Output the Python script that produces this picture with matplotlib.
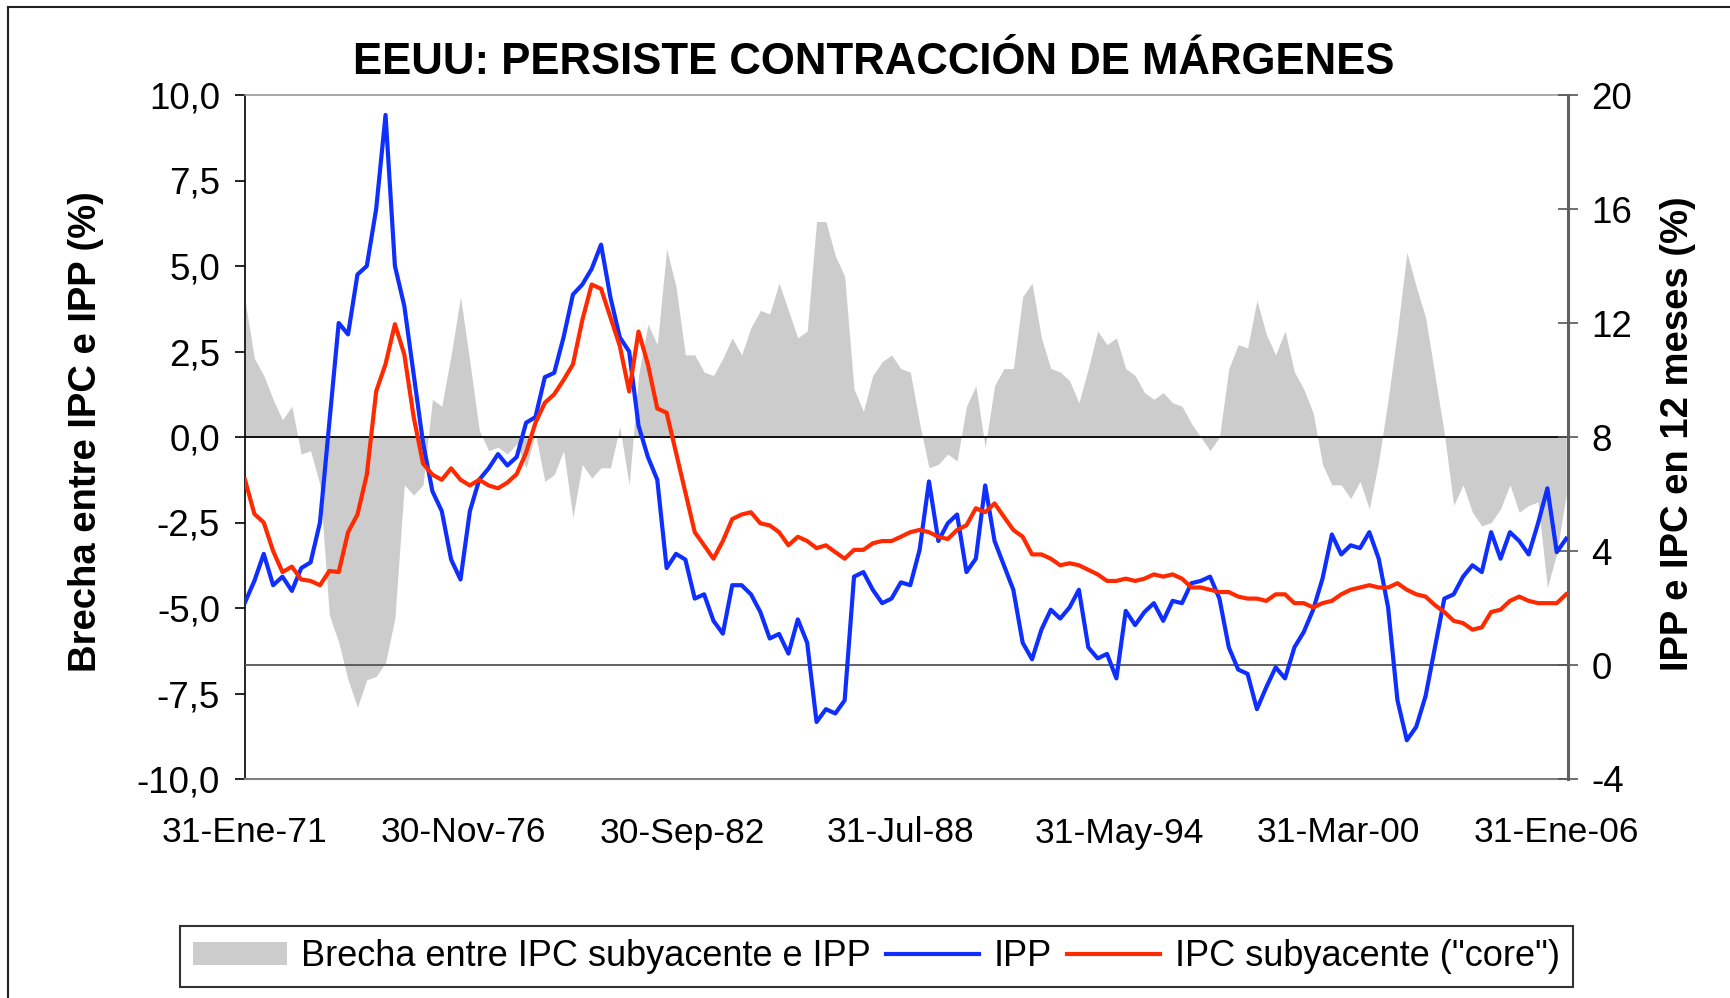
import numpy as np
import matplotlib
matplotlib.use("Agg")
import matplotlib.pyplot as plt
from matplotlib.lines import Line2D
from matplotlib.patches import Patch

plt.rcParams['font.family'] = ['Liberation Sans', 'DejaVu Sans']

# months since Jan-1971 (quarterly samples)
months = np.arange(0, 424, 3)

brecha = [4.0, 2.3, 1.8, 1.1, 0.5, 0.9, -0.5, -0.4, -1.4, -5.2,
          -6.0, -7.1, -7.9, -7.1, -7.0, -6.6, -5.3, -1.4, -1.7, -1.4,
          1.1, 0.9, 2.4, 4.1, 2.2, 0.2, -0.4, -0.3, -0.5, -0.2,
          -0.9, 0.1, -1.3, -1.1, -0.4, -2.35, -0.8, -1.2, -0.9, -0.9,
          0.3, -1.4, 1.8, 3.3, 2.7, 5.5, 4.4, 2.4, 2.4, 1.9,
          1.8, 2.3, 2.9, 2.4, 3.2, 3.7, 3.6, 4.5, 3.7, 2.9,
          3.1, 6.3, 6.3, 5.3, 4.7, 1.4, 0.75, 1.8, 2.2, 2.4,
          2.0, 1.9, 0.4, -0.9, -0.8, -0.5, -0.7, 0.9, 1.5, -0.3,
          1.5, 2.0, 2.0, 4.1, 4.5, 2.9, 2.0, 1.9, 1.65, 1.0,
          2.0, 3.1, 2.7, 2.9, 2.0, 1.8, 1.3, 1.1, 1.3, 1.0,
          0.9, 0.4, 0.0, -0.4, 0.0, 2.0, 2.7, 2.6, 4.0, 3.0,
          2.4, 3.1, 1.9, 1.4, 0.7, -0.8, -1.4, -1.4, -1.8, -1.3,
          -2.1, -0.7, 1.1, 3.1, 5.4, 4.4, 3.5, 1.8, 0.1, -2.0,
          -1.4, -2.2, -2.6, -2.5, -2.1, -1.4, -2.2, -2.0, -1.9, -4.4,
          -3.4, -1.7]

ipp = [2.2, 2.95, 3.9, 2.8, 3.1, 2.6, 3.4, 3.6, 5.0, 8.5,
       12.0, 11.6, 13.7, 14.0, 16.0, 19.3, 14.0, 12.6, 10.2, 7.8,
       6.1, 5.4, 3.7, 3.0, 5.4, 6.5, 6.9, 7.4, 7.0, 7.3,
       8.5, 8.7, 10.1, 10.25, 11.5, 13.0, 13.35, 13.9, 14.75, 12.9,
       11.5, 11.0, 8.4, 7.3, 6.5, 3.4, 3.9, 3.7, 2.33, 2.48,
       1.55, 1.1, 2.8, 2.8, 2.48, 1.86, 0.93, 1.09, 0.4, 1.6,
       0.78, -2.0, -1.55, -1.7, -1.24, 3.1, 3.26, 2.64, 2.17, 2.33,
       2.9, 2.8, 4.04, 6.44, 4.35, 4.97, 5.28, 3.26, 3.73, 6.3,
       4.35, 3.5, 2.64, 0.78, 0.2, 1.24, 1.94, 1.63, 2.02, 2.64,
       0.62, 0.23, 0.39, -0.47, 1.9, 1.4, 1.86, 2.17, 1.55, 2.25,
       2.17, 2.87, 2.95, 3.1, 2.33, 0.62, -0.16, -0.31, -1.55, -0.78,
       -0.08, -0.47, 0.62, 1.16, 1.94, 3.03, 4.58, 3.88, 4.2, 4.1,
       4.66, 3.73, 2.02, -1.24, -2.64, -2.17, -1.09, 0.62, 2.33, 2.48,
       3.1, 3.5, 3.26, 4.66, 3.73, 4.66, 4.35, 3.88, 4.97, 6.2,
       3.96, 4.43]

core = [6.5, 5.3, 5.0, 4.0, 3.26, 3.45, 3.0, 2.95, 2.8, 3.3,
        3.26, 4.66, 5.28, 6.68, 9.6, 10.56, 11.96, 10.9, 8.7, 7.07,
        6.68, 6.5, 6.9, 6.5, 6.3, 6.5, 6.3, 6.2, 6.4, 6.7,
        7.45, 8.5, 9.2, 9.5, 10.0, 10.55, 12.1, 13.35, 13.2, 12.2,
        11.2, 9.6, 11.7, 10.55, 9.0, 8.85, 7.45, 6.06, 4.66, 4.2,
        3.73, 4.35, 5.12, 5.28, 5.36, 4.97, 4.9, 4.66, 4.2, 4.5,
        4.35, 4.1, 4.2, 3.96, 3.73, 4.04, 4.04, 4.27, 4.35, 4.35,
        4.5, 4.66, 4.74, 4.66, 4.5, 4.42, 4.74, 4.9, 5.5, 5.36,
        5.67, 5.2, 4.74, 4.5, 3.88, 3.88, 3.73, 3.5, 3.57, 3.5,
        3.34, 3.18, 2.95, 2.95, 3.03, 2.95, 3.03, 3.18, 3.1, 3.18,
        3.03, 2.72, 2.72, 2.64, 2.56, 2.56, 2.4, 2.33, 2.33, 2.25,
        2.48, 2.48, 2.17, 2.17, 2.02, 2.17, 2.25, 2.48, 2.64, 2.72,
        2.8, 2.72, 2.72, 2.87, 2.64, 2.48, 2.4, 2.1, 1.86, 1.55,
        1.47, 1.24, 1.32, 1.86, 1.94, 2.25, 2.4, 2.25, 2.17, 2.17,
        2.17, 2.48]

tick_months = [0, 70, 140, 210, 280, 350, 420]
tick_labels = ["31-Ene-71", "30-Nov-76", "30-Sep-82", "31-Jul-88",
               "31-May-94", "31-Mar-00", "31-Ene-06"]
left_ticks = [-10, -7.5, -5, -2.5, 0, 2.5, 5, 7.5, 10]
right_ticks = [-4, 0, 4, 8, 12, 16, 20]

title = "EEUU: PERSISTE CONTRACCIÓN DE MÁRGENES"
left_label = "Brecha entre IPC e IPP (%)"
right_label = "IPP e IPC en 12 meses (%)"
legend_labels = ["Brecha entre IPC subyacente e IPP", "IPP", 'IPC subyacente ("core")']

GRAY = '#CCCCCC'
BLUE = '#0F2FFF'
RED = '#FF2A00'
LW = 3.0

W, H = 1731, 998
fig = plt.figure(figsize=(W / 100, H / 100), dpi=100)
fig.patch.set_facecolor('white')

L, R, T, B = 245, 1568, 95, 779
ax1 = fig.add_axes([L / W, (H - B) / H, (R - L) / W, (B - T) / H])
ax2 = ax1.twinx()

# gray area on primary axis
ax1.fill_between(months, 0, brecha, color=GRAY, linewidth=0, zorder=1)
ax1.axhline(0, color='black', lw=1.3, zorder=2)
ax1.set_ylim(-10, 10)
ax1.set_xlim(0, 423.6)
ax1.set_yticks(left_ticks)
ax1.set_yticklabels([f"{v:.1f}".replace('.', ',') for v in left_ticks], fontsize=26.5)
ax1.set_xticks(tick_months)
ax1.set_xticklabels(tick_labels, fontsize=25.5)
ax1.tick_params(axis='x', length=0, pad=27)
ax1.tick_params(axis='y', direction='out', length=7, width=1.2, color='black', pad=11)

ax1.spines['right'].set_visible(False)
ax1.spines['left'].set_color('black')
ax1.spines['left'].set_linewidth(1.2)
ax1.spines['bottom'].set_color('#808080')
ax1.spines['bottom'].set_linewidth(1.5)
ax1.spines['top'].set_color('#999999')
ax1.spines['top'].set_linewidth(1.2)

# lines on secondary axis
ax2.axhline(0, color='#555555', lw=1.3, zorder=1)
ax2.plot(months, ipp, color=BLUE, lw=LW, zorder=3)
ax2.plot(months, core, color=RED, lw=LW, zorder=4)
ax2.set_ylim(-4, 20)
ax2.set_yticks(right_ticks)
ax2.set_yticklabels([str(v) for v in right_ticks], fontsize=26.5)
ax2.tick_params(axis='y', direction='inout', length=14, width=1.2, color='#555555', pad=10)
for s in ['left', 'top', 'bottom']:
    ax2.spines[s].set_visible(False)
ax2.spines['right'].set_color('#606060')
ax2.spines['right'].set_linewidth(2.2)

# texts
fig.text(874 / W, (H - 63) / H, title, fontsize=31.5, fontweight='bold',
         ha='center', va='center')
fig.text(86 / W, (H - 432) / H, left_label, fontsize=27.5, fontweight='bold',
         rotation=90, ha='center', va='center')
fig.text(1678 / W, (H - 434) / H, right_label, fontsize=27.5, fontweight='bold',
         rotation=90, ha='center', va='center')

# legend
handles = [Patch(facecolor=GRAY, edgecolor='none'),
           Line2D([], [], color=BLUE, lw=LW),
           Line2D([], [], color=RED, lw=LW)]
leg = fig.legend(handles, legend_labels, loc='center',
                 bbox_to_anchor=(876.5 / W, (H - 956.5) / H), ncol=3,
                 fontsize=26, frameon=True, fancybox=False, framealpha=1,
                 edgecolor='#333333', handlelength=2.6, handletextpad=0.4,
                 columnspacing=0.4, borderpad=0.35, handleheight=0.6)
leg.get_frame().set_linewidth(1.5)

# outer chart border (left and top edges visible)
fig.add_artist(Line2D([8 / W, 8 / W], [0, (H - 7) / H], color='#222222', lw=1.5,
                      transform=fig.transFigure))
fig.add_artist(Line2D([8 / W, 1], [(H - 7) / H, (H - 7) / H], color='#222222', lw=1.5,
                      transform=fig.transFigure))

fig.savefig('out.png', dpi=100)
